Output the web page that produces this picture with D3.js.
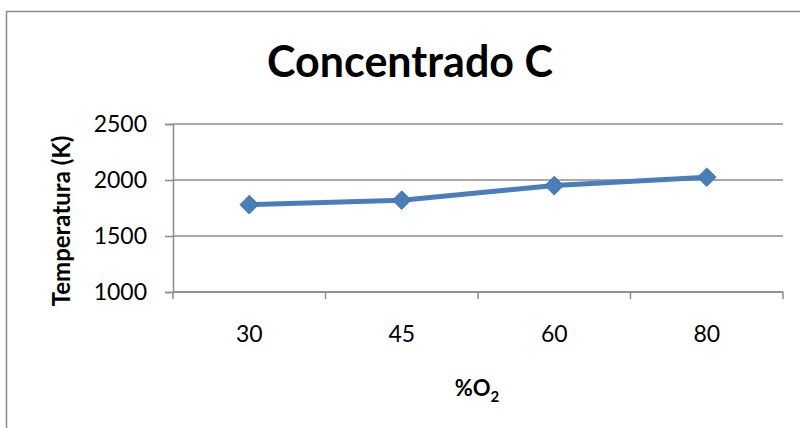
<!DOCTYPE html>
<html>
<head>
<meta charset="utf-8">
<script src="https://cdn.jsdelivr.net/npm/d3@7"></script>
<style>
  html, body { margin: 0; padding: 0; background: #fff; }
  svg { display: block; font-family: Lato, "Open Sans", sans-serif; }
</style>
</head>
<body>
<svg id="chart" width="800" height="428"></svg>
<script>
// Oxygen percentage categories and the resulting temperature (K)
const categories = ["30", "45", "60", "80"];
const temperatures = [1780, 1820, 1950, 2025];
const yTicks = [1000, 1500, 2000, 2500];

const svg = d3.select("#chart");

// Outer chart frame
svg.append("rect")
  .attr("x", 6.5).attr("y", 11.5)
  .attr("width", 820).attr("height", 440)
  .attr("fill", "#fff")
  .attr("stroke", "#8c8c8c")
  .attr("stroke-width", 1.5);

const plot = { left: 173, right: 783, top: 124, bottom: 292 };

const x = d3.scaleBand()
  .domain(categories)
  .range([plot.left, plot.right])
  .paddingInner(0).paddingOuter(0);

const y = d3.scaleLinear()
  .domain([1000, 2500])
  .range([plot.bottom, plot.top]);

// Horizontal gridlines
svg.append("g")
  .selectAll("line")
  .data(yTicks)
  .join("line")
  .attr("x1", plot.left).attr("x2", plot.right)
  .attr("y1", d => Math.round(y(d)))
  .attr("y2", d => Math.round(y(d)))
  .attr("stroke", "#8c8c8c")
  .attr("stroke-width", 1.5);

// Y axis
const yAxis = svg.append("g")
  .attr("transform", `translate(${plot.left},0)`)
  .call(d3.axisLeft(y).tickValues(yTicks).tickSize(8).tickPadding(18).tickFormat(d3.format("d")));
yAxis.select(".domain").attr("stroke", "#8c8c8c").attr("stroke-width", 1.5);
yAxis.selectAll(".tick line").attr("stroke", "#8c8c8c").attr("stroke-width", 1.5);
yAxis.selectAll(".tick text")
  .attr("font-size", 23).attr("fill", "#000")
  .attr("font-family", "Lato, 'Open Sans', sans-serif");

// X axis with ticks at category boundaries
const boundaries = categories.map(c => x(c)).concat([plot.right]);
const xg = svg.append("g");
xg.append("line")
  .attr("x1", plot.left).attr("x2", plot.right)
  .attr("y1", Math.round(y(1000))).attr("y2", Math.round(y(1000)))
  .attr("stroke", "#8c8c8c").attr("stroke-width", 1.5);
xg.selectAll("line.tk")
  .data(boundaries)
  .join("line")
  .attr("class", "tk")
  .attr("x1", d => d).attr("x2", d => d)
  .attr("y1", y(1000)).attr("y2", y(1000) + 7)
  .attr("stroke", "#8c8c8c").attr("stroke-width", 1.5);
xg.selectAll("text")
  .data(categories)
  .join("text")
  .attr("x", d => x(d) + x.bandwidth() / 2)
  .attr("y", 342)
  .attr("text-anchor", "middle")
  .attr("font-size", 23)
  .attr("fill", "#000")
  .text(d => d);

// Data line
const pts = categories.map((c, i) => [x(c) + x.bandwidth() / 2, y(temperatures[i])]);
svg.append("path")
  .attr("d", d3.line()(pts))
  .attr("fill", "none")
  .attr("stroke", "#4a7ebb")
  .attr("stroke-width", 5)
  .attr("stroke-linejoin", "round");

// Diamond markers
svg.append("g")
  .selectAll("path")
  .data(pts)
  .join("path")
  .attr("transform", d => `translate(${d[0]},${d[1]})`)
  .attr("d", d3.symbol().type(d3.symbolDiamond2).size(220))
  .attr("fill", "#4a7ebb")
  .attr("stroke", "#3f72ad")
  .attr("stroke-width", 1);

// Title
svg.append("text")
  .attr("x", 410).attr("y", 77)
  .attr("text-anchor", "middle")
  .attr("font-size", 43)
  .attr("font-weight", "bold")
  .attr("fill", "#000")
  .text("Concentrado C");

// Y axis title
svg.append("text")
  .attr("transform", "translate(70,221) rotate(-90)")
  .attr("text-anchor", "middle")
  .attr("font-size", 24)
  .attr("font-weight", "bold")
  .attr("fill", "#000")
  .text("Temperatura (K)");

// X axis title with subscript
const xt = svg.append("text")
  .attr("x", 477).attr("y", 396)
  .attr("text-anchor", "middle")
  .attr("font-size", 22)
  .attr("font-weight", "bold")
  .attr("fill", "#000");
xt.append("tspan").text("%O");
xt.append("tspan").attr("font-size", 15).attr("dy", 6).text("2");
</script>
</body>
</html>
